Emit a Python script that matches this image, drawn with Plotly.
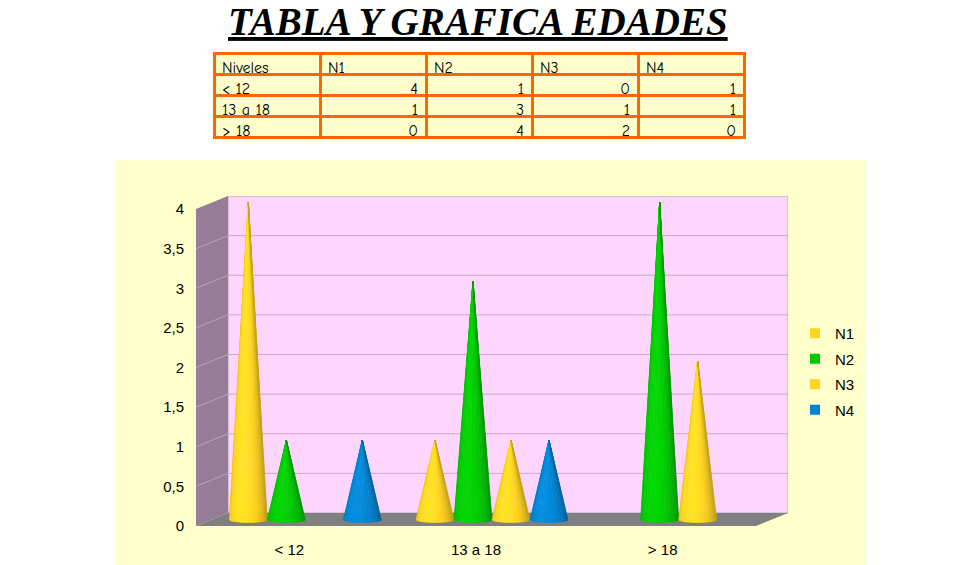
import math
import plotly.graph_objects as go

niveles = ["< 12", "13 a 18", "> 18"]
series = ["N1", "N2", "N3", "N4"]
n1 = [4, 1, 0]
n2 = [1, 3, 4]
n3 = [0, 1, 2]
n4 = [1, 1, 0]
y_ticks = [0, 0.5, 1, 1.5, 2, 2.5, 3, 3.5, 4]

colores = ["#FFD320", "#00C800", "#FFD320", "#0084D1"]

# page body has an 8px margin, so the figure is a bit smaller and shifted
OFF = 8
W, H = 968 - OFF, 565 - OFF


def px(x):
    return (x - OFF) / W


def py(y):
    return 1 - (y - OFF) / H


# fake 3d depth, in data units
DX = 0.1714
DY = 0.164
BAR_W = 0.2036
R = 0.102
B = 0.038
N_SLICES = 24


def hex_rgb(c):
    c = c.lstrip("#")
    return [int(c[i:i + 2], 16) for i in (0, 2, 4)]


def shade(color, theta):
    # simple lambert with light coming from front-left
    lx, ly = -0.35, 0.94
    inten = max(0.0, math.cos(theta) * lx + math.sin(theta) * ly)
    f = 0.78 + 0.30 * inten
    r, g, b = hex_rgb(color)
    return "rgb(%d,%d,%d)" % (min(255, r * f), min(255, g * f), min(255, b * f))


fig = go.Figure()

# the cones
valores = [n1, n2, n3, n4]
for s, vals in enumerate(valores):
    for c, v in enumerate(vals):
        if v == 0:
            continue
        cx = c + 0.5 + (s - 1.5) * BAR_W + DX / 2
        cy = DY / 2
        for k in range(N_SLICES):
            t0 = math.pi - math.pi * k / N_SLICES
            t1 = math.pi - math.pi * (k + 1) / N_SLICES
            xs = [cx, cx + R * math.cos(t0), cx + R * math.cos(t1), cx]
            ys = [v + DY / 2, cy - B * math.sin(t0), cy - B * math.sin(t1), v + DY / 2]
            col = shade(colores[s], (t0 + t1) / 2)
            fig.add_trace(go.Scatter(
                x=xs, y=ys, mode="lines", fill="toself",
                fillcolor=col, line=dict(color=col, width=0.6),
                hoverinfo="skip", showlegend=False))

# legend entries
for s, name in enumerate(series):
    fig.add_trace(go.Scatter(
        x=[None], y=[None], mode="markers", name=name,
        marker=dict(symbol="square", size=10, color=colores[s]),
        legendgroup=name))

# table on top
tabla_font = dict(family="Comic Sans MS, Comic Neue, DejaVu Sans Condensed", size=16, color="black")
fig.add_trace(go.Table(
    domain=dict(x=[px(214), px(744)], y=[py(146), py(53)]),
    columnwidth=[1, 1, 1, 1, 1],
    header=dict(values=["Niveles"] + series,
                fill_color="#FFFFCC", line=dict(color="#FF6600", width=3),
                align="left", height=21, font=tabla_font),
    cells=dict(values=[[""] * len(niveles), n1, n2, n3, n4],
               fill_color="#FFFFCC", line=dict(color="#FF6600", width=3),
               align=["left", "right", "right", "right", "right"], height=21,
               font=tabla_font),
))
# plotly.js makes a row taller when the cell string itself has "<" or ">",
# but not when it comes from the prefix. plotly.js takes a per-cell prefix
# (col x row), the python validator would turn the nested list into a string,
# so it is set straight on the trace dict.
fig._data[-1]["cells"]["prefix"] = [[t.replace(" ", "\u00a0") for t in niveles]] + \
    [[""] * len(niveles) for _ in series]

shapes = []
# chart area
shapes.append(dict(type="rect", xref="paper", yref="paper", x0=px(115), x1=px(865),
                   y0=0, y1=py(160), fillcolor="#FFFFCC", line_width=0, layer="below"))
ymax = y_ticks[-1]
ncat = len(niveles)
# back wall
shapes.append(dict(type="rect", xref="x", yref="y", x0=DX, x1=ncat + DX,
                   y0=DY, y1=ymax + DY, fillcolor="#FDD5FD",
                   line=dict(color="#B4A8B4", width=1), layer="below"))
# left wall
shapes.append(dict(type="path", xref="x", yref="y",
                   path=f"M 0,0 L {DX},{DY} L {DX},{ymax + DY} L 0,{ymax} Z",
                   fillcolor="#977C97", line_width=0, layer="below"))
# floor
shapes.append(dict(type="path", xref="x", yref="y",
                   path=f"M 0,0 L {ncat},0 L {ncat + DX},{DY} L {DX},{DY} Z",
                   fillcolor="#7F7F7F", line_width=0, layer="below"))
# grid lines
for v in y_ticks[1:-1]:
    shapes.append(dict(type="line", xref="x", yref="y", x0=DX, x1=ncat + DX,
                       y0=v + DY, y1=v + DY, line=dict(color="#C6AAC6", width=1),
                       layer="below"))
    shapes.append(dict(type="line", xref="x", yref="y", x0=0, x1=DX,
                       y0=v, y1=v + DY, line=dict(color="#B9A3B9", width=1),
                       layer="below"))

fig.update_layout(
    width=W, height=H,
    margin=dict(l=0, r=0, t=0, b=0),
    paper_bgcolor="white",
    plot_bgcolor="rgba(0,0,0,0)",
    separators=",.",
    font=dict(family="Liberation Sans, Arial", size=15, color="black"),
    shapes=shapes,
    xaxis=dict(domain=[px(196), px(788)], range=[0, ncat + DX],
               tickvals=[i + 0.5 for i in range(ncat)], ticktext=niveles,
               showgrid=False, zeroline=False, showline=False,
               ticks="outside", ticklen=10, tickcolor="rgba(0,0,0,0)",
               fixedrange=True, automargin=False),
    yaxis=dict(domain=[py(526), py(196)], range=[0, ymax + DY],
               tickvals=y_ticks, showgrid=False, zeroline=False, showline=False,
               ticks="outside", ticklen=8, tickcolor="rgba(0,0,0,0)",
               fixedrange=True, automargin=False),
    legend=dict(x=px(795), y=py(317), xanchor="left", yanchor="top",
                bgcolor="rgba(0,0,0,0)", tracegroupgap=3,
                font=dict(size=15)),
    annotations=[dict(
        text="<b><i><u>TABLA Y GRAFICA EDADES</u></i></b>",
        xref="paper", yref="paper", x=px(478), y=py(21),
        xanchor="center", yanchor="middle", showarrow=False,
        font=dict(family="Liberation Serif, Times New Roman", size=39, color="black"))],
)

fig.write_html("out.html")
